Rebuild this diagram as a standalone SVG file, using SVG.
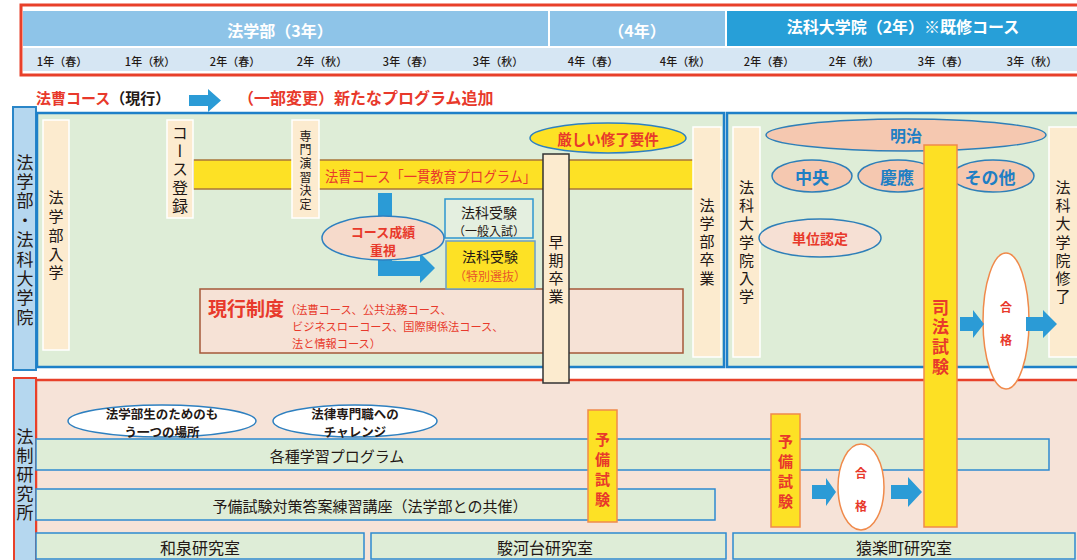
<svg xmlns="http://www.w3.org/2000/svg" width="1077" height="560" viewBox="0 0 1077 560">
<style>
text{font-family:"Noto Sans CJK JP","Noto Sans CJK SC",sans-serif;dominant-baseline:central;fill:#231815}
.c{text-anchor:middle}
.b{font-weight:bold}
.r{fill:#e8392b}
.w{fill:#fff}
.bl{fill:#1f7fc4}
.yr{font-size:11px;text-anchor:middle;font-weight:500}
.vt{writing-mode:vertical-rl;text-anchor:middle}
.beige{fill:#fcebcf;stroke:#fff;stroke-width:1.5}
.panel{fill:#deedd7;stroke:#1e80c8;stroke-width:2.5}
.band{fill:#deedd7;stroke:#2e8ad0;stroke-width:1.5}
.yel{fill:#fde125;stroke:#f08a4b;stroke-width:1.5}
.arr{fill:#2b9bd6}
.salmon{fill:#f5c8b0;stroke:#2e7fb8;stroke-width:1.5}
</style>

<g id="header">
  <rect x="21" y="5" width="1070" height="70" fill="#fff" stroke="#e8402a" stroke-width="3"/>
  <rect x="23" y="11" width="525" height="35" fill="#8ec4e8"/>
  <rect x="550" y="11" width="175" height="35" fill="#8ec4e8"/>
  <rect x="727" y="11" width="360" height="35" fill="#279fd8"/>
  <rect x="23" y="48" width="1060" height="23" fill="#d6e6f3"/>
  <text x="280" y="30" class="c b w" font-size="16">法学部（3年）</text>
  <text x="637" y="30" class="c b w" font-size="16">（4年）</text>
  <text x="903" y="26" class="c b w" font-size="16">法科大学院（2年）※既修コース</text>
  <text x="62" y="61" class="yr">1年（春）</text>
  <text x="150" y="61" class="yr">1年（秋）</text>
  <text x="235" y="61" class="yr">2年（春）</text>
  <text x="322" y="61" class="yr">2年（秋）</text>
  <text x="408" y="61" class="yr">3年（春）</text>
  <text x="498" y="61" class="yr">3年（秋）</text>
  <text x="593" y="61" class="yr">4年（春）</text>
  <text x="685" y="61" class="yr">4年（秋）</text>
  <text x="769" y="61" class="yr">2年（春）</text>
  <text x="854" y="61" class="yr">2年（秋）</text>
  <text x="943" y="61" class="yr">3年（春）</text>
  <text x="1032" y="61" class="yr">3年（秋）</text>
</g>

<g id="legend">
  <text x="36" y="97" class="b" font-size="15"><tspan class="r">法曹コース</tspan><tspan>（現行）</tspan></text>
  <text x="238" y="97" class="b r" font-size="16">（一部変更）新たなプログラム追加</text>
</g>

<g id="section-law">
  <rect x="13" y="107" width="23" height="263" fill="#b5d7ef" stroke="#2a86c8" stroke-width="2"/>
  <text x="25" y="241" class="vt" font-size="17" style="letter-spacing:2.4px">法学部・法科大学院</text>
  <rect x="37" y="113" width="687" height="254" class="panel"/>
  <rect x="727" y="113" width="360" height="254" class="panel"/>
</g>

<g id="section-inst">
  <rect x="36" y="380" width="1060" height="190" fill="#f6e3d8" stroke="#e8402a" stroke-width="2.5"/>
  <rect x="14" y="378" width="22" height="190" fill="#b5d7ef" stroke="#e8402a" stroke-width="2"/>
  <text x="25" y="476" class="vt" font-size="17" style="letter-spacing:2px">法制研究所</text>
</g>

<g id="n-entry">
  <rect x="43" y="120" width="26" height="230" class="beige"/>
  <text x="56" y="237" class="vt" font-size="15" style="letter-spacing:3.75px">法学部入学</text>
</g>

<g id="n-band">
  <rect x="193" y="160" width="528" height="29" fill="#fde125" stroke="#a8763a" stroke-width="1.5"/>
  <text x="325" y="175" class="r" font-size="15" textLength="211" lengthAdjust="spacingAndGlyphs">法曹コース「一貫教育プログラム」</text>
</g>

<g id="n-course-reg">
  <rect x="167" y="120" width="26" height="98" class="beige"/>
  <text x="180" y="170.5" class="vt" font-size="16" style="letter-spacing:2.25px">コース登録</text>
</g>

<g id="n-seminar">
  <rect x="292" y="120" width="27" height="98" class="beige"/>
  <text x="305.5" y="171" class="vt" font-size="12" style="letter-spacing:1.6px">専門演習決定</text>
</g>

<g id="n-strict">
  <ellipse cx="608" cy="138" rx="78" ry="15" fill="#fde125" stroke="#2e80c0" stroke-width="1.5"/>
  <text x="608" y="138" class="c b r" font-size="14.5">厳しい修了要件</text>
</g>

<g id="n-genko">
  <rect x="200" y="289" width="483" height="64" fill="#f6e2d6" stroke="#a5583a" stroke-width="1.5"/>
  <text x="208" y="307" class="b r" font-size="19">現行制度</text>
  <text x="285" y="309" class="r" font-size="11.2">（法曹コース、公共法務コース、</text>
  <text x="292" y="326" class="r" font-size="11.2">ビジネスローコース、国際関係法コース、</text>
  <text x="292" y="343" class="r" font-size="11.2">法と情報コース）</text>
</g>

<g id="n-exam-general">
  <rect x="445" y="199" width="88" height="39" fill="#e4efe0" stroke="#2e96d0" stroke-width="1.5"/>
  <text x="489" y="212" class="c" font-size="14">法科受験</text>
  <text x="489" y="230" class="c" font-size="12">（一般入試）</text>
</g>

<g id="n-exam-special">
  <rect x="446" y="241" width="89" height="48" fill="#fde125" stroke="#6a9fc8" stroke-width="1.5"/>
  <text x="490" y="256" class="c" font-size="14">法科受験</text>
  <text x="490" y="275" class="c" font-size="12" style="fill:#e8572b">（特別選抜）</text>
</g>

<g id="n-grad">
  <rect x="693" y="127" width="28" height="230" class="beige"/>
  <text x="707" y="243" class="vt" font-size="15" style="letter-spacing:3.25px">法学部卒業</text>
</g>

<g id="n-early">
  <rect x="543" y="154" width="26" height="229" fill="#fcebcf" stroke="#333" stroke-width="1.5"/>
  <text x="556" y="271" class="vt" font-size="15" style="letter-spacing:3.3px">早期卒業</text>
</g>

<g id="n-ls-entry">
  <rect x="733" y="127" width="27" height="230" class="beige"/>
  <text x="746.5" y="243.5" class="vt" font-size="15" style="letter-spacing:3.3px">法科大学院入学</text>
</g>

<g id="n-meiji">
  <ellipse cx="906" cy="135" rx="140" ry="16" class="salmon"/>
  <text x="906" y="135" class="c b bl" font-size="16">明治</text>
</g>
<g id="n-chuo">
  <ellipse cx="812" cy="176" rx="40" ry="16" class="salmon"/>
  <text x="812" y="176" class="c b bl" font-size="17">中央</text>
</g>
<g id="n-keio">
  <ellipse cx="898" cy="176" rx="40" ry="16" class="salmon"/>
  <text x="897" y="176" class="c b bl" font-size="17">慶應</text>
</g>
<g id="n-other">
  <ellipse cx="993" cy="176" rx="41" ry="16" class="salmon"/>
  <text x="990" y="176" class="c b bl" font-size="17">その他</text>
</g>
<g id="n-credit">
  <ellipse cx="820" cy="238" rx="61" ry="19" fill="#f6e0d4" stroke="#2e7fb8" stroke-width="1.5"/>
  <text x="820" y="238" class="c b r" font-size="14">単位認定</text>
</g>

<g id="n-ls-done">
  <rect x="1049" y="127" width="30" height="230" class="beige"/>
  <text x="1063" y="243.5" class="vt" font-size="15" style="letter-spacing:3.3px">法科大学院修了</text>
</g>

<g id="n-place">
  <ellipse cx="162" cy="421" rx="94" ry="16" fill="#fff" stroke="#2e80c0" stroke-width="1.5"/>
  <text x="162" y="413" class="c b" font-size="12.5">法学部生のためのも</text>
  <text x="162" y="431" class="c b" font-size="12.5">う一つの場所</text>
</g>
<g id="n-challenge">
  <ellipse cx="355" cy="421" rx="82" ry="16" fill="#fff" stroke="#2e80c0" stroke-width="1.5"/>
  <text x="355" y="413" class="c b" font-size="12.5">法律専門職への</text>
  <text x="355" y="431" class="c b" font-size="12.5">チャレンジ</text>
</g>

<g id="n-programs">
  <rect x="36" y="439" width="1013" height="31" class="band"/>
  <text x="337" y="455" class="c" font-size="15">各種学習プログラム</text>
</g>
<g id="n-prep-course">
  <rect x="36" y="489" width="679" height="31" class="band"/>
  <text x="370" y="505" class="c" font-size="15">予備試験対策答案練習講座（法学部との共催）</text>
</g>
<g id="n-izumi">
  <rect x="36" y="533" width="328" height="26" class="band"/>
  <text x="200" y="547" class="c" font-size="16">和泉研究室</text>
</g>
<g id="n-surugadai">
  <rect x="371" y="533" width="355" height="26" class="band"/>
  <text x="545" y="547" class="c" font-size="16">駿河台研究室</text>
</g>
<g id="n-sarugaku">
  <rect x="733" y="533" width="342" height="26" class="band"/>
  <text x="904" y="547" class="c" font-size="16">猿楽町研究室</text>
</g>

<g id="n-prelim1">
  <rect x="588" y="410" width="29" height="112" class="yel"/>
  <text x="602.5" y="472" class="vt b r" font-size="15" style="letter-spacing:5.3px">予備試験</text>
</g>
<g id="n-prelim2">
  <rect x="771" y="414" width="29" height="113" class="yel"/>
  <text x="785.5" y="474" class="vt b r" font-size="15" style="letter-spacing:5.3px">予備試験</text>
</g>
<g id="n-pass-small">
  <ellipse cx="861" cy="487" rx="23" ry="43" fill="#fff" stroke="#f08a4b" stroke-width="1.5"/>
  <text x="861" y="500" class="vt b r" font-size="12" style="letter-spacing:21px">合格</text>
</g>

<g id="n-bar-exam">
  <rect x="924" y="145" width="33" height="382" fill="#fde024" stroke="#f08a4b" stroke-width="1.5"/>
  <text x="940.5" y="338" class="vt b r" font-size="17" style="letter-spacing:2.7px">司法試験</text>
</g>
<g id="n-pass-big">
  <ellipse cx="1006" cy="321" rx="23" ry="68" fill="#fff" stroke="#f08a4b" stroke-width="1.5"/>
  <text x="1006" y="334" class="vt b r" font-size="12" style="letter-spacing:21px">合格</text>
</g>

<g id="connectors">
  <path class="arr" d="M189,95 L208,95 L208,89 L221,100.5 L208,112 L208,106 L189,106 Z"/>
  <path class="arr" d="M378,193 L392,193 L392,261 L420,261 L420,253 L435,268 L420,283 L420,276 L378,276 Z"/>
  <path class="arr" d="M960,317 L973,317 L973,310 L984,324 L973,338 L973,331 L960,331 Z"/>
  <path class="arr" d="M1026,317 L1043,317 L1043,310 L1057,324 L1043,338 L1043,331 L1026,331 Z"/>
  <path class="arr" d="M812,485 L826,485 L826,478 L836,492 L826,506 L826,499 L812,499 Z"/>
  <path class="arr" d="M891,485 L908,485 L908,477 L922,492 L908,507 L908,499 L891,499 Z"/>
</g>

<g id="n-grade">
  <ellipse cx="383" cy="238" rx="61" ry="22" fill="#f6dacb" stroke="#2e80c0" stroke-width="1.5"/>
  <text x="383" y="231" class="c b r" font-size="13">コース成績</text>
  <text x="383" y="249" class="c b r" font-size="13">重視</text>
</g>
</svg>
